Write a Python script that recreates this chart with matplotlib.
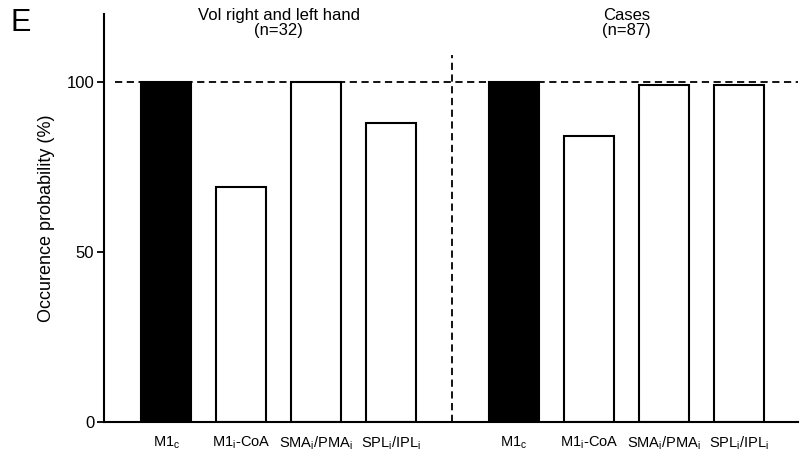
import numpy as np
import matplotlib
matplotlib.use('Agg')
import matplotlib.pyplot as plt

plt.rcParams['font.family'] = ['Liberation Sans', 'DejaVu Sans']
plt.rcParams['mathtext.fontset'] = 'custom'
plt.rcParams['mathtext.rm'] = 'Liberation Sans'
plt.rcParams['mathtext.it'] = 'Liberation Sans'

labels = [r'$\mathregular{M1_c}$', r'$\mathregular{M1_i}$-CoA',
          r'$\mathregular{SMA_i/PMA_i}$', r'$\mathregular{SPL_i/IPL_i}$']
vol_values = [100, 69, 100, 88]
case_values = [100, 84, 99, 99]
group_titles = ['Vol right and left hand\n(n=32)', 'Cases\n(n=87)']
fills = ['black', 'white', 'white', 'white']

fig = plt.figure(figsize=(8.01, 4.66), dpi=100)
ax = fig.add_axes([0.1298, 0.0944, 0.8662, 0.8756])

x1 = np.arange(4)
x2 = x1 + 4.64
ax.bar(x1, vol_values, 0.67, color=fills, edgecolor='black', linewidth=1.5, zorder=2)
ax.bar(x2, case_values, 0.67, color=fills, edgecolor='black', linewidth=1.5, zorder=2)

ax.hlines(100, -0.68, 8.43, colors='black', linestyles=(0, (4, 2.5)), linewidth=1.3, zorder=3)
ax.vlines(3.81, 0, 108, colors='black', linestyles=(0, (4, 2.5)), linewidth=1.3, zorder=3)

ax.set_xlim(-0.83, 8.43)
ax.set_ylim(0, 120)
ax.set_yticks([0, 50, 100])
ax.set_xticks(list(x1) + list(x2))
ax.set_xticklabels(labels + labels, fontsize=10.5)
ax.tick_params(axis='x', length=0, pad=9)
ax.tick_params(axis='y', length=5, width=1.3, labelsize=12, pad=2)
for s in ['top', 'right']:
    ax.spines[s].set_visible(False)
for s in ['left', 'bottom']:
    ax.spines[s].set_linewidth(1.5)

ax.set_ylabel('Occurence probability (%)', fontsize=13, labelpad=8)

ax.text(1.5, 113, group_titles[0], ha='center', va='bottom', fontsize=12, linespacing=1.0)
ax.text(6.14, 113, group_titles[1], ha='center', va='bottom', fontsize=12, linespacing=1.0)
fig.text(0.013, 0.918, 'E', fontsize=22, ha='left', va='bottom')

fig.savefig('out.png', dpi=100)
